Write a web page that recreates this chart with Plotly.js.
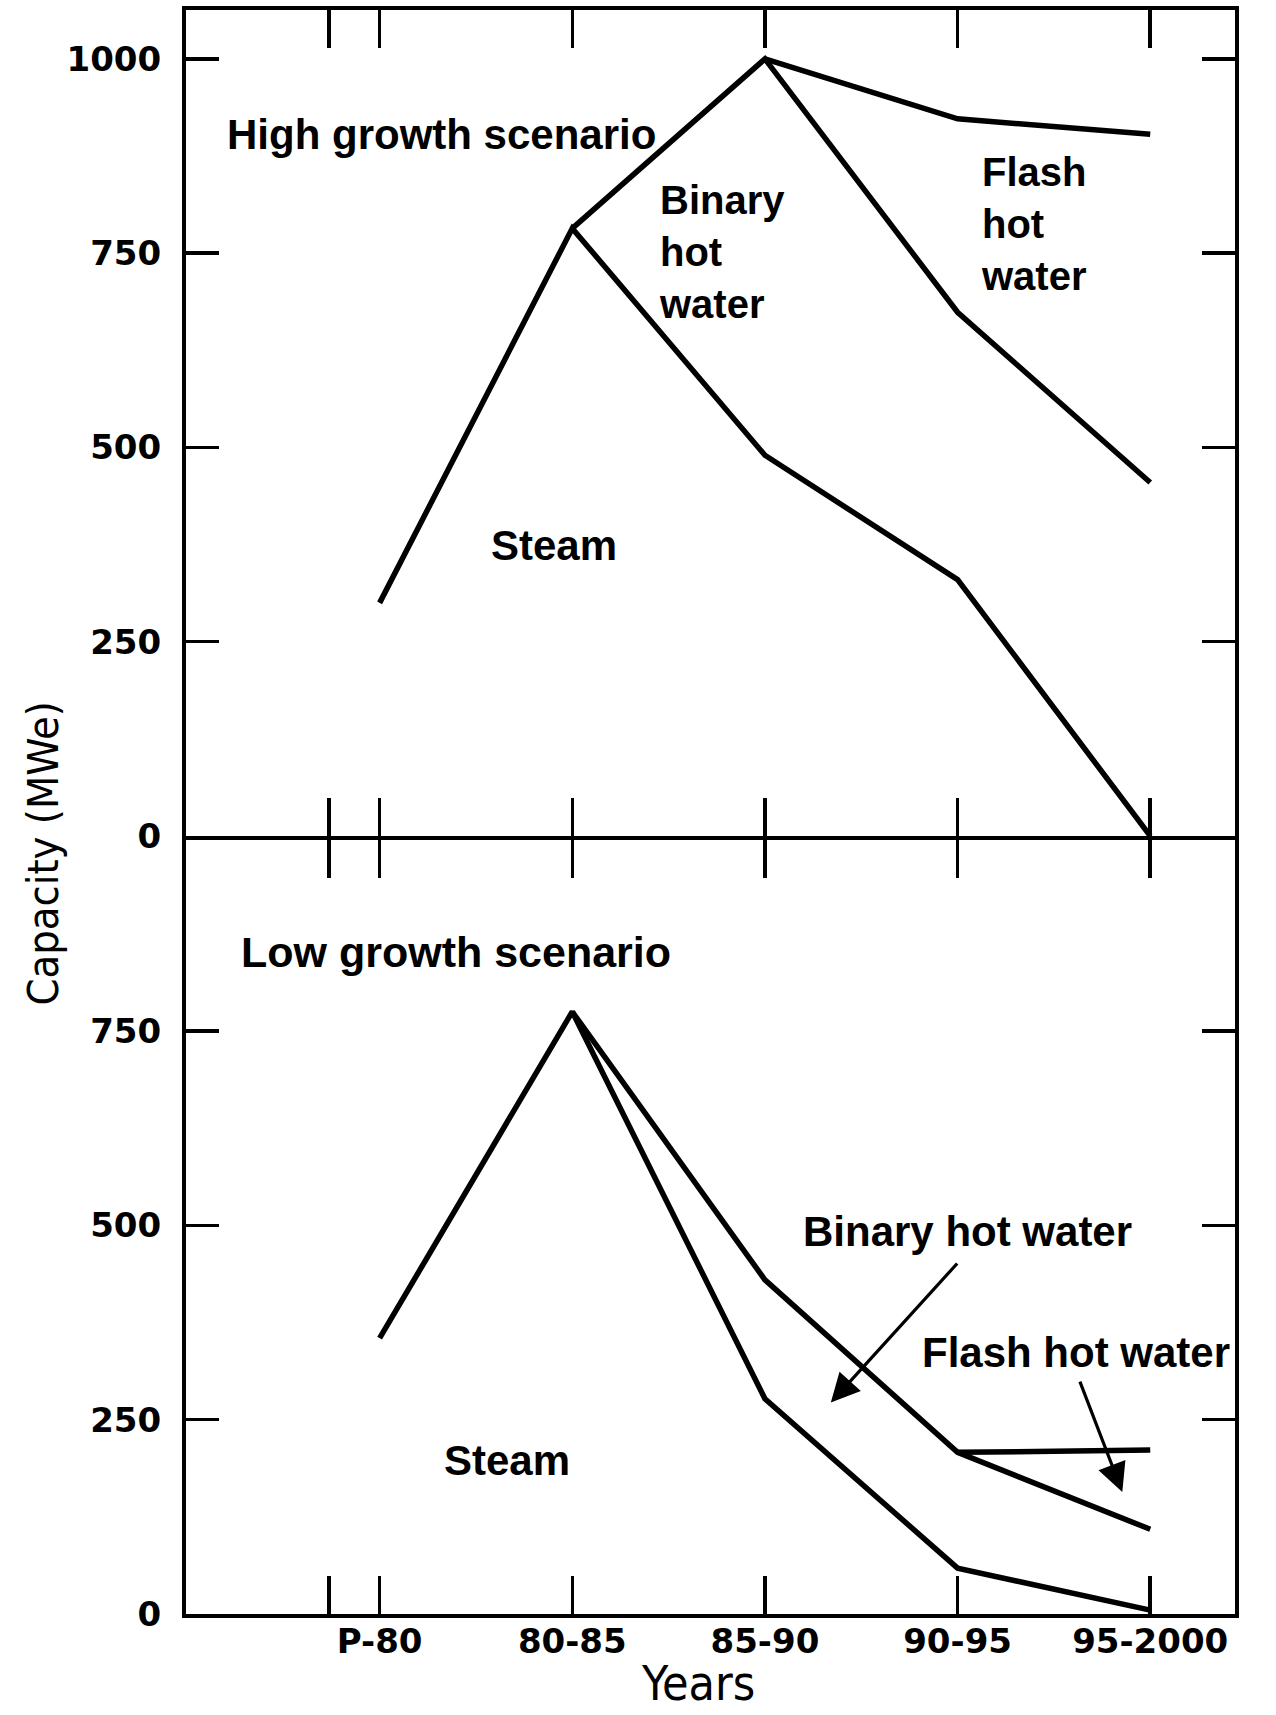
<!DOCTYPE html>
<html>
<head>
<meta charset="utf-8">
<script src="https://cdn.plot.ly/plotly-3.0.1.min.js"></script>
<style>html,body{margin:0;padding:0;background:#fff;}#chart{width:1276px;height:1715px;}</style>
</head>
<body>
<div id="chart"></div>
<script>
// ---- data ----
const categories = ['P-80', '80-85', '85-90', '90-95', '95-2000'];
const catPos = [0, 1, 2, 3, 4];
const breakTickPos = -0.264;   // extra (axis-break) tick left of P-80

// High growth scenario (cumulative MWe)
const highSteam        = [300, 782, 490, 330, 0];
const highSteamBinary  = [null, 782, 1000, 674, 455];
const highTotal        = [null, null, 1000, 923, 903];

// Low growth scenario (cumulative MWe)
const lowSteam         = [355, 775, 277, 59, 5];
const lowSteamBinary   = [null, 775, 430, 208, 109];
const lowTotal         = [null, null, null, 208, 211];

const yTicksHigh = [0, 250, 500, 750, 1000];
const yTicksLow  = [0, 250, 500, 750];

// ---- style ----
const LW = 5.5;
const lineStyle = {color: '#000', width: LW};
const annFont = {family: 'Liberation Sans, Arial, sans-serif', size: 42, color: '#000', weight: 'bold'};
const annFontWide = {family: 'Liberation Sans, Arial, sans-serif', size: 43, color: '#000', weight: 'bold'};
const annFontML = {family: 'Liberation Sans, Arial, sans-serif', size: 40, color: '#000', weight: 'bold'};
const tickFont = {family: 'DejaVu Sans, sans-serif', size: 34, color: '#000', weight: 'bold'};
const titleFont = {family: 'DejaVu Sans Condensed, Liberation Sans, sans-serif', size: 43, color: '#000'};
const xTitleFont = {family: 'DejaVu Sans Condensed, Liberation Sans, sans-serif', size: 48, color: '#000'};

function mk(y, xa, ya) {
  return {x: catPos, y: y, xaxis: xa, yaxis: ya, type: 'scatter', mode: 'lines',
          line: lineStyle, hoverinfo: 'skip', showlegend: false};
}

const traces = [
  mk(highSteam, 'x', 'y'),
  mk(highSteamBinary, 'x', 'y'),
  mk(highTotal, 'x', 'y'),
  mk(lowSteam, 'x2', 'y2'),
  mk(lowSteamBinary, 'x2', 'y2'),
  mk(lowTotal, 'x2', 'y2')
];

const xTickVals = [breakTickPos].concat(catPos);
const xTickText = [''].concat(categories);

const xCommon = {
  range: [-1.005, 4.44], showgrid: false, zeroline: false,
  showline: true, linecolor: '#000', linewidth: 4, mirror: 'ticks',
  ticks: 'inside', ticklen: 38, tickwidth: 3.5, tickcolor: '#000',
  tickmode: 'array', tickvals: xTickVals, ticktext: xTickText,
  tickfont: tickFont
};
const yCommon = {
  showgrid: false, zeroline: false,
  showline: true, linecolor: '#000', linewidth: 4, mirror: 'ticks',
  ticks: 'inside', ticklen: 33, tickwidth: 3.5, tickcolor: '#000',
  tickmode: 'array', tickfont: tickFont, ticklabelstandoff: 14
};

const layout = {
  width: 1276, height: 1715,
  margin: {l: 186, r: 41, t: 10, b: 101},
  paper_bgcolor: '#fff', plot_bgcolor: '#fff',
  showlegend: false,
  xaxis: Object.assign({}, xCommon, {anchor: 'y', showticklabels: false}),
  yaxis: Object.assign({}, yCommon, {domain: [0.48504, 1], range: [0, 1063], tickvals: yTicksHigh, anchor: 'x'}),
  xaxis2: Object.assign({}, xCommon, {anchor: 'y2', showticklabels: true, ticklabelstandoff: -6}),
  yaxis2: Object.assign({}, yCommon, {domain: [0, 0.48254], range: [0, 996], tickvals: yTicksLow, anchor: 'x2'}),
  annotations: [
    // top panel labels
    {xref: 'x', yref: 'y', x: 0.321, y: 903, text: 'High growth scenario', showarrow: false, font: annFont, xanchor: 'center', yanchor: 'middle'},
    {xref: 'x', yref: 'y', x: 0.907, y: 374, text: 'Steam', showarrow: false, font: annFont, xanchor: 'center', yanchor: 'middle'},
    {xref: 'x', yref: 'y', x: 1.44, y: 752, text: 'Binary<br>hot<br>water', showarrow: false, font: annFontML, xanchor: 'left', yanchor: 'middle', align: 'left'},
    {xref: 'x', yref: 'y', x: 3.11, y: 788, text: 'Flash<br>hot<br>water', showarrow: false, font: annFontML, xanchor: 'left', yanchor: 'middle', align: 'left'},
    // bottom panel labels
    {xref: 'x2', yref: 'y2', x: 0.399, y: 852, text: 'Low growth scenario', showarrow: false, font: annFontWide, xanchor: 'center', yanchor: 'middle'},
    {xref: 'x2', yref: 'y2', x: 0.663, y: 197, text: 'Steam', showarrow: false, font: annFont, xanchor: 'center', yanchor: 'middle'},
    {xref: 'x2', yref: 'y2', x: 3.05, y: 492, text: 'Binary hot water', showarrow: false, font: annFont, xanchor: 'center', yanchor: 'middle'},
    {xref: 'x2', yref: 'y2', x: 3.617, y: 337, text: 'Flash hot water', showarrow: false, font: annFont, xanchor: 'center', yanchor: 'middle'},
    // arrows
    {xref: 'x2', yref: 'y2', axref: 'x2', ayref: 'y2', x: 2.342, y: 272, ax: 3.005, ay: 453, text: '', showarrow: true,
     arrowhead: 2, arrowsize: 1.8, arrowwidth: 3.2, arrowcolor: '#000', standoff: 0},
    {xref: 'x2', yref: 'y2', axref: 'x2', ayref: 'y2', x: 3.855, y: 157, ax: 3.632, ay: 301, text: '', showarrow: true,
     arrowhead: 2, arrowsize: 1.8, arrowwidth: 3.2, arrowcolor: '#000', standoff: 0},
    // axis titles
    {xref: 'paper', yref: 'paper', x: -0.136, y: 0.4743, text: 'Capacity (MWe)', showarrow: false, textangle: -90,
     font: titleFont, xanchor: 'center', yanchor: 'middle'},
    {xref: 'paper', yref: 'paper', x: 0.488, y: -0.062, text: 'Years', showarrow: false,
     font: xTitleFont, xanchor: 'center', yanchor: 'bottom'}
  ]
};

Plotly.newPlot('chart', traces, layout, {displayModeBar: false, staticPlot: true});
</script>
</body>
</html>
